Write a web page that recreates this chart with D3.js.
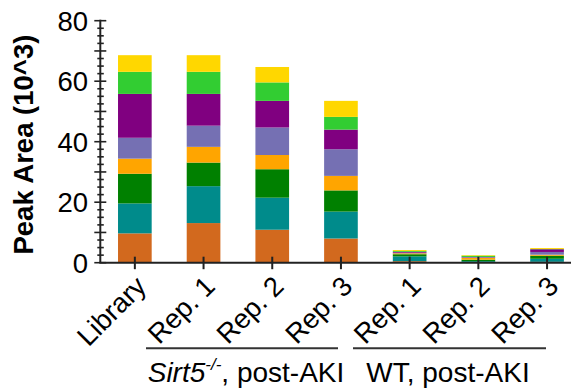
<!DOCTYPE html>
<html>
<head>
<meta charset="utf-8">
<script src="https://cdn.jsdelivr.net/npm/d3@7"></script>
<style>
  html, body { margin: 0; padding: 0; background: #fff; }
  svg { display: block; }
  text { font-family: "Liberation Sans", Arial, sans-serif; fill: #000; }
</style>
</head>
<body>
<svg id="chart" width="578" height="388"></svg>
<script>
// ---- data ----
const categories = ["Library", "S-Rep. 1", "S-Rep. 2", "S-Rep. 3", "W-Rep. 1", "W-Rep. 2", "W-Rep. 3"];
const tickLabels = ["Library", "Rep. 1", "Rep. 2", "Rep. 3", "Rep. 1", "Rep. 2", "Rep. 3"];
const seriesNames = ["s1", "s2", "s3", "s4", "s5", "s6", "s7", "s8"];
const seriesColors = ["#D2691E", "#008B8B", "#008000", "#FFA500", "#7570B3", "#800080", "#32CD32", "#FFD700"];
// values per series (bottom to top), one per category
const s1 = [9.7, 13.1, 10.9, 8.0, 0.5, 0.2, 0.3];
const s2 = [9.9, 12.2, 10.6, 8.9, 1.6, 0.3, 1.0];
const s3 = [9.8, 7.8, 9.4, 7.0, 0.7, 0.5, 1.0];
const s4 = [5.0, 5.2, 4.7, 4.8, 0.3, 0.6, 0.35];
const s5 = [6.9, 7.0, 9.1, 8.8, 0.2, 0.2, 0.9];
const s6 = [14.5, 10.5, 8.8, 6.5, 0.3, 0.1, 0.9];
const s7 = [7.3, 7.3, 6.1, 4.2, 0.3, 0.4, 0.1];
const s8 = [5.5, 5.5, 5.1, 5.3, 0.3, 0.2, 0.3];
const seriesValues = [s1, s2, s3, s4, s5, s6, s7, s8];
const yTickLabels = [0, 20, 40, 60, 80];

// ---- build table ----
const table = categories.map((c, i) => {
  const row = { cat: c };
  seriesNames.forEach((s, j) => { row[s] = seriesValues[j][i]; });
  return row;
});
const stacked = d3.stack().keys(seriesNames)(table);

const svg = d3.select("#chart");
const x0 = 100.5, step = 68.7;
const x = d3.scaleBand().domain(categories).range([x0, x0 + step * 7]).paddingInner(0.51).paddingOuter(0.255);
const y = d3.scaleLinear().domain([0, 80]).range([262.7, 20.7]);
const axisX = 100.3;

// bars
svg.append("g").selectAll("g").data(stacked).join("g")
  .attr("fill", (d, i) => seriesColors[i])
  .selectAll("rect").data(d => d).join("rect")
  .attr("x", d => x(d.data.cat))
  .attr("width", x.bandwidth())
  .attr("y", d => y(d[1]))
  .attr("height", d => y(d[0]) - y(d[1]));

// y axis line
svg.append("line").attr("x1", axisX).attr("x2", axisX)
  .attr("y1", y(80) - 1).attr("y2", y(0))
  .attr("stroke", "#222").attr("stroke-width", 2);
// y ticks: minor every 2.5, major every 10
const minorTicks = d3.range(0, 80.01, 2.5);
svg.append("g").selectAll("line").data(minorTicks).join("line")
  .attr("x1", d => d % 10 === 0 ? axisX - 6 : axisX - 3)
  .attr("x2", d => d % 10 === 0 ? axisX + 6 : axisX + 3.5)
  .attr("y1", d => y(d)).attr("y2", d => y(d))
  .attr("stroke", "#222").attr("stroke-width", 1.6);
svg.append("g").selectAll("text").data(yTickLabels).join("text")
  .attr("x", 88).attr("y", d => y(d)).attr("dy", "0.36em")
  .attr("text-anchor", "end").style("font-size", "27.5px")
  .text(d => d);

// x axis line
svg.append("line").attr("x1", axisX - 1).attr("x2", 571)
  .attr("y1", y(0)).attr("y2", y(0))
  .attr("stroke", "#222").attr("stroke-width", 2);
svg.append("g").selectAll("line").data(categories).join("line")
  .attr("x1", d => x(d) + x.bandwidth() / 2).attr("x2", d => x(d) + x.bandwidth() / 2)
  .attr("y1", y(0) - 6).attr("y2", y(0) + 6.5)
  .attr("stroke", "#222").attr("stroke-width", 2);
svg.append("g").selectAll("text").data(categories).join("text")
  .attr("transform", d => `translate(${x(d) + x.bandwidth() / 2 + 13},288) rotate(-45)`)
  .attr("text-anchor", "end").style("font-size", "27.5px")
  .text((d, i) => tickLabels[i]);

// y label
svg.append("text")
  .attr("transform", "translate(33,144.6) rotate(-90)")
  .attr("text-anchor", "middle").style("font-size", "27.5px").style("font-weight", "bold")
  .text("Peak Area (10^3)");

// group lines
svg.append("line").attr("x1", 146).attr("x2", 338).attr("y1", 348.3).attr("y2", 348.3)
  .attr("stroke", "#333").attr("stroke-width", 2);
svg.append("line").attr("x1", 353).attr("x2", 546).attr("y1", 348.3).attr("y2", 348.3)
  .attr("stroke", "#333").attr("stroke-width", 2);

const g1 = svg.append("text").attr("x", 246).attr("y", 381.7)
  .attr("text-anchor", "middle").style("font-size", "28px");
g1.append("tspan").style("font-style", "italic").text("Sirt5");
g1.append("tspan").style("font-style", "italic").style("font-size", "17px").attr("dy", -12).text("-/-");
g1.append("tspan").attr("dy", 12).text(", post-AKI");

svg.append("text").attr("x", 448).attr("y", 381.7)
  .attr("text-anchor", "middle").style("font-size", "28px")
  .text("WT, post-AKI");
</script>
</body>
</html>
